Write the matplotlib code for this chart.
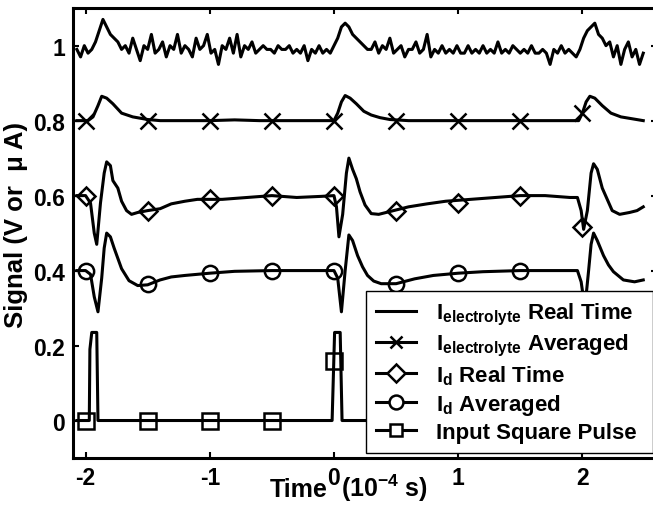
import numpy as np
import matplotlib
matplotlib.use('Agg')
from matplotlib import pyplot as plt
from matplotlib.lines import Line2D

plt.rcParams['font.family'] = ['Liberation Sans', 'DejaVu Sans']
plt.rcParams['font.weight'] = 'bold'
plt.rcParams['mathtext.default'] = 'regular'
plt.rcParams['axes.unicode_minus'] = False

# %% data (time in 1e-4 s)
# I_electrolyte real time, sampled every 0.03 from -2.07
e_rt_t = np.linspace(-2.07, 2.49, 153)
e_rt = [0.99, 0.97, 1.00, 0.98, 0.99, 1.01, 1.04, 1.07, 1.05, 1.03, 1.02, 1.01, 0.99,
        1.00, 0.98, 1.02, 0.99, 0.96, 1.00, 0.99, 1.03, 0.98, 0.99,
        1.01, 0.97, 1.00, 0.99, 1.03, 0.98, 1.00, 0.99, 0.97, 1.02,
        0.99, 1.00, 1.03, 0.98, 0.99, 0.95, 1.00, 0.99, 1.02, 0.98,
        1.03, 0.97, 1.00, 0.99, 1.01, 0.98, 0.99, 1.00, 0.99, 0.99,
        0.98, 1.00, 0.99, 0.99, 1.00, 0.98, 0.99, 0.98, 1.00, 0.96,
        0.99, 0.98, 1.00, 0.98, 0.99, 0.98,
        1.00, 1.02, 1.05, 1.06, 1.05, 1.03, 1.02, 1.01, 1.00,
        0.99, 0.99, 1.01, 0.98, 1.00, 0.99, 1.02, 0.98, 0.99, 1.00,
        0.97, 0.99, 0.99, 1.01, 0.98, 0.99, 1.03, 0.97, 0.99, 0.98,
        1.00, 0.98, 0.99, 0.98, 1.00, 0.98, 0.98, 1.00, 0.98, 0.99,
        0.98, 1.00, 0.98, 0.99, 0.98, 1.01, 0.98, 0.99, 0.98, 1.00,
        0.99, 0.98, 0.99, 0.98, 1.00, 0.98, 0.98, 0.99, 0.98, 0.95,
        0.99, 0.98, 1.00, 0.98, 0.99, 0.98, 0.97,
        0.99, 1.02, 1.04, 1.05, 1.06, 1.03, 1.02, 1.00,
        1.01, 0.97, 1.00, 0.95, 0.99, 1.01, 0.97, 0.99, 0.95, 0.98]

# I_electrolyte averaged
e_avg_t = [-2.07, -1.98, -1.94, -1.90, -1.87, -1.83, -1.78, -1.71, -1.62, -1.50,
           -1.40, -1.2, -1.0, -0.8, -0.6, -0.4, -0.2, 0.0, 0.03, 0.06,
           0.09, 0.13, 0.18, 0.24, 0.30, 0.37, 0.45, 0.6, 0.8, 1.0,
           1.2, 1.4, 1.6, 1.8, 1.97, 2.00, 2.03, 2.06, 2.10, 2.16,
           2.23, 2.31, 2.40, 2.49]
e_avg = [0.80, 0.80, 0.81, 0.84, 0.865, 0.86, 0.845, 0.82, 0.81, 0.803,
         0.80, 0.80, 0.80, 0.802, 0.80, 0.80, 0.80, 0.80, 0.82, 0.85,
         0.867, 0.86, 0.845, 0.825, 0.815, 0.808, 0.803, 0.80, 0.80, 0.80,
         0.80, 0.80, 0.80, 0.80, 0.80, 0.82, 0.85, 0.865, 0.86, 0.84,
         0.82, 0.81, 0.805, 0.80]

# I_d real time
d_rt_t = [-2.07, -2.0, -1.96, -1.93, -1.91, -1.88, -1.85, -1.83, -1.80, -1.78,
          -1.74, -1.71, -1.67, -1.63, -1.58, -1.5, -1.4, -1.31, -1.2, -1.1,
          -0.9, -0.7, -0.5, -0.3, -0.1, 0.0, 0.02, 0.04, 0.07, 0.10,
          0.12, 0.15, 0.18, 0.21, 0.25, 0.30, 0.36, 0.48, 0.6, 0.75,
          0.9, 1.1, 1.3, 1.5, 1.7, 1.9, 1.96, 1.99, 2.01, 2.04,
          2.07, 2.09, 2.12, 2.16, 2.20, 2.24, 2.30, 2.38, 2.44, 2.49]
d_rt = [0.60, 0.60, 0.58, 0.50, 0.47, 0.58, 0.66, 0.69, 0.68, 0.64,
        0.62, 0.585, 0.56, 0.55, 0.555, 0.56, 0.565, 0.578, 0.585, 0.59,
        0.59, 0.595, 0.60, 0.595, 0.598, 0.60, 0.57, 0.49, 0.55, 0.66,
        0.70, 0.67, 0.645, 0.61, 0.575, 0.552, 0.55, 0.56, 0.57, 0.578,
        0.585, 0.59, 0.595, 0.60, 0.60, 0.595, 0.595, 0.56, 0.51, 0.56,
        0.66, 0.685, 0.67, 0.62, 0.59, 0.56, 0.55, 0.555, 0.56, 0.57]

# I_d averaged
d_avg_t = [-2.07, -2.0, -1.96, -1.93, -1.90, -1.87, -1.85, -1.83, -1.80, -1.77,
           -1.71, -1.65, -1.58, -1.5, -1.4, -1.31, -1.2, -1.1, -1.0, -0.8,
           -0.5, -0.2, 0.0, 0.03, 0.06, 0.09, 0.12, 0.15, 0.19, 0.23,
           0.27, 0.32, 0.38, 0.5, 0.65, 0.8, 1.0, 1.2, 1.5, 1.8,
           1.96, 1.99, 2.02, 2.05, 2.07, 2.09, 2.12, 2.17, 2.21, 2.25,
           2.33, 2.42, 2.49]
d_avg = [0.40, 0.40, 0.39, 0.33, 0.29, 0.38, 0.46, 0.50, 0.49, 0.46,
         0.405, 0.373, 0.36, 0.362, 0.375, 0.383, 0.387, 0.39, 0.393, 0.398,
         0.40, 0.40, 0.40, 0.38, 0.29, 0.40, 0.495, 0.48, 0.44, 0.41,
         0.387, 0.372, 0.365, 0.365, 0.378, 0.387, 0.393, 0.397, 0.40, 0.40,
         0.40, 0.37, 0.30, 0.40, 0.47, 0.50, 0.48, 0.44, 0.415, 0.397,
         0.375, 0.37, 0.375]

# input square pulse
pulse_t = [-2.07, -1.97, -1.965, -1.95, -1.91, -1.90, -0.015, 0.005, 0.05, 0.065,
           1.985, 2.005, 2.05, 2.065, 2.49]
pulse = [0, 0, 0.19, 0.235, 0.235, 0, 0, 0.235, 0.235, 0,
         0, 0.235, 0.235, 0, 0]

# marker positions
mk_t = [-2, -1.5, -1, -0.5, 0, 0.5, 1, 1.5, 2]
e_avg_mk = [0.80, 0.80, 0.80, 0.80, 0.80, 0.80, 0.80, 0.80, 0.82]
d_rt_mk = [0.60, 0.56, 0.59, 0.60, 0.60, 0.56, 0.58, 0.60, 0.515]
d_avg_mk = [0.40, 0.365, 0.393, 0.40, 0.40, 0.365, 0.393, 0.40, 0.30]
pulse_mk = [0, 0, 0, 0, 0.16, 0, 0, 0, 0.16]

labels = [r'I$_{\mathregular{electrolyte}}$ Real Time',
          r'I$_{\mathregular{electrolyte}}$ Averaged',
          r'I$_{\mathregular{d}}$ Real Time',
          r'I$_{\mathregular{d}}$ Averaged',
          'Input Square Pulse ']
xticks = [-2, -1, 0, 1, 2]
yticks = [0, 0.2, 0.4, 0.6, 0.8, 1]
ytick_labels = ['0', '0.2', '0.4', '0.6', '0.8', '1']

# %%
fig = plt.figure(figsize=(6.53, 5.10), dpi=100)
ax = fig.add_axes([0.112, 0.100, 0.894, 0.882])
lw = 2.2
mkw = dict(color='k', ls='none', mfc='none', mec='k', mew=1.8)

ax.plot(e_rt_t, e_rt, color='k', lw=lw)
ax.plot(e_avg_t, e_avg, color='k', lw=lw)
ax.plot(mk_t, e_avg_mk, marker='x', ms=12, **mkw)
ax.plot(d_rt_t, d_rt, color='k', lw=lw)
ax.plot(mk_t, d_rt_mk, marker='D', ms=9, **mkw)
ax.plot(d_avg_t, d_avg, color='k', lw=lw)
ax.plot(mk_t, d_avg_mk, marker='o', ms=11, **mkw)
ax.plot(pulse_t, pulse, color='k', lw=lw)
ax.plot(mk_t, pulse_mk, marker='s', ms=11, **mkw)

ax.set_xlim(-2.1, 2.6)
ax.set_ylim(-0.1, 1.1)
ax.set_xticks(xticks)
ax.set_yticks(yticks)
ax.set_yticklabels(ytick_labels)
ax.tick_params(direction='in', length=4, width=1.5, top=True, right=True,
               labelsize=16.5, pad=6)
for sp in ax.spines.values():
    sp.set_linewidth(2.2)

# x label: "Time" and the unit sit either side of the 0 tick label
ax.set_xlabel('Time', fontsize=18, fontweight='bold', va='baseline')
ax.xaxis.set_label_coords(0.386, -0.084)
ax.text(0.459, -0.084, '(10$^{-4}$ s)', transform=ax.transAxes, fontsize=18,
        fontweight='bold', ha='left', va='baseline')
ax.set_ylabel('Signal (V or  μ A)', fontsize=18.5, fontweight='bold')
ax.yaxis.set_label_coords(-0.077, 0.52)

handles = [Line2D([], [], color='k', lw=lw),
           Line2D([], [], color='k', lw=lw, marker='x', ms=8, mew=1.8),
           Line2D([], [], color='k', lw=lw, marker='D', ms=9, mfc='white', mew=1.8),
           Line2D([], [], color='k', lw=lw, marker='o', ms=10, mfc='white', mew=1.8),
           Line2D([], [], color='k', lw=lw, marker='s', ms=9, mfc='white', mew=1.8)]
leg = ax.legend(handles, labels, loc='lower right', bbox_to_anchor=(0.993, 0.012),
                borderaxespad=0, fancybox=False, framealpha=1, edgecolor='k',
                prop=dict(size=16, weight='bold'), handlelength=1.8,
                labelspacing=0.22, borderpad=0.45, handletextpad=0.9)
leg.get_frame().set_linewidth(1.0)

plt.savefig('out.png', dpi=100)
